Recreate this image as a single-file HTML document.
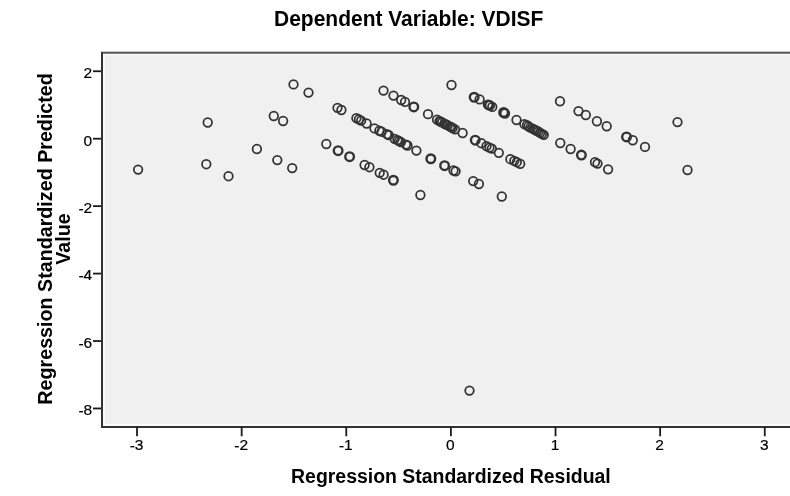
<!DOCTYPE html>
<html><head><meta charset="utf-8"><style>
html,body{margin:0;padding:0;background:#fff;}
svg{display:block;}
</style></head><body>
<svg width="790" height="496" viewBox="0 0 790 496">
<rect x="0" y="0" width="790" height="496" fill="#fff"/>
<text x="274" y="26" textLength="269.4" lengthAdjust="spacingAndGlyphs" font-family="'Liberation Sans', sans-serif" font-weight="bold" font-size="22" fill="#000">Dependent Variable: VDISF</text>
<rect x="103" y="53" width="687" height="373" fill="#f0f0f0"/>
<rect x="103" y="54" width="687" height="1.6" fill="#f7f7f7"/>
<rect x="103" y="54" width="2" height="372" fill="#f9f9f9"/>
<rect x="103" y="424" width="687" height="2" fill="#fbfbfb"/>
<rect x="101" y="51.7" width="689" height="2" fill="#555"/>
<rect x="101" y="52" width="2" height="376" fill="#333"/>
<rect x="101" y="426" width="689" height="2" fill="#333"/>
<g stroke="#1a1a1a" stroke-width="1.8"><line x1="137.04" y1="427" x2="137.04" y2="436.3"/><line x1="241.66" y1="427" x2="241.66" y2="436.3"/><line x1="346.28" y1="427" x2="346.28" y2="436.3"/><line x1="450.90" y1="427" x2="450.90" y2="436.3"/><line x1="555.52" y1="427" x2="555.52" y2="436.3"/><line x1="660.14" y1="427" x2="660.14" y2="436.3"/><line x1="764.76" y1="427" x2="764.76" y2="436.3"/><line x1="93" y1="71.26" x2="101" y2="71.26"/><line x1="93" y1="138.70" x2="101" y2="138.70"/><line x1="93" y1="206.14" x2="101" y2="206.14"/><line x1="93" y1="273.58" x2="101" y2="273.58"/><line x1="93" y1="341.02" x2="101" y2="341.02"/><line x1="93" y1="408.46" x2="101" y2="408.46"/></g>
<g font-family="'Liberation Sans', sans-serif" font-size="15.5" fill="#000" stroke="#000" stroke-width="0.2" text-anchor="middle"><text x="136.54" y="449.6"><tspan dy="1">-</tspan><tspan dy="-1">3</tspan></text><text x="241.16" y="449.6"><tspan dy="1">-</tspan><tspan dy="-1">2</tspan></text><text x="345.78" y="449.6"><tspan dy="1">-</tspan><tspan dy="-1">1</tspan></text><text x="450.40" y="449.6">0</text><text x="555.02" y="449.6">1</text><text x="659.64" y="449.6">2</text><text x="764.26" y="449.6">3</text></g>
<g font-family="'Liberation Sans', sans-serif" font-size="15.5" fill="#000" stroke="#000" stroke-width="0.2" text-anchor="end"><text x="92.2" y="78.06">2</text><text x="92.2" y="145.50">0</text><text x="92.2" y="212.94"><tspan dy="1">-</tspan><tspan dy="-1">2</tspan></text><text x="92.2" y="280.38"><tspan dy="1">-</tspan><tspan dy="-1">4</tspan></text><text x="92.2" y="347.82"><tspan dy="1">-</tspan><tspan dy="-1">6</tspan></text><text x="92.2" y="415.26"><tspan dy="1">-</tspan><tspan dy="-1">8</tspan></text></g>
<text x="450.9" y="482.9" text-anchor="middle" font-family="'Liberation Sans', sans-serif" font-weight="bold" font-size="19.45" fill="#000">Regression Standardized Residual</text>
<g font-family="'Liberation Sans', sans-serif" font-weight="bold" font-size="19.7" fill="#000" text-anchor="middle">
<text transform="translate(51.9,238.9) rotate(-90)">Regression Standardized Predicted</text>
<text transform="translate(70.3,239.1) rotate(-90)">Value</text>
</g>
<g fill="none" stroke="#333" stroke-width="1.75">
<circle cx="138.10" cy="169.60" r="4.3"/>
<circle cx="207.70" cy="122.50" r="4.3"/>
<circle cx="206.30" cy="164.20" r="4.3"/>
<circle cx="228.50" cy="176.20" r="4.3"/>
<circle cx="256.90" cy="149.00" r="4.3"/>
<circle cx="273.80" cy="116.00" r="4.3"/>
<circle cx="283.10" cy="121.00" r="4.3"/>
<circle cx="277.30" cy="160.10" r="4.3"/>
<circle cx="292.20" cy="168.10" r="4.3"/>
<circle cx="293.50" cy="84.40" r="4.3"/>
<circle cx="308.50" cy="92.60" r="4.3"/>
<circle cx="326.30" cy="144.00" r="4.3"/>
<circle cx="338.10" cy="150.65" r="4.3" stroke-width="2.4"/>
<circle cx="349.60" cy="156.65" r="4.3" stroke-width="2.4"/>
<circle cx="364.60" cy="165.00" r="4.3"/>
<circle cx="369.40" cy="167.20" r="4.3"/>
<circle cx="379.70" cy="172.80" r="4.3"/>
<circle cx="383.60" cy="174.70" r="4.3"/>
<circle cx="393.40" cy="180.25" r="4.3" stroke-width="2.4"/>
<circle cx="420.40" cy="195.00" r="4.3"/>
<circle cx="337.50" cy="107.80" r="4.3"/>
<circle cx="341.40" cy="110.00" r="4.3"/>
<circle cx="356.40" cy="118.20" r="4.3"/>
<circle cx="358.90" cy="119.40" r="4.3"/>
<circle cx="361.10" cy="120.70" r="4.3"/>
<circle cx="366.60" cy="123.50" r="4.3"/>
<circle cx="374.50" cy="128.40" r="4.3"/>
<circle cx="379.40" cy="130.75" r="4.3"/>
<circle cx="381.60" cy="131.70" r="4.3"/>
<circle cx="386.90" cy="134.20" r="4.3"/>
<circle cx="388.75" cy="135.10" r="4.3"/>
<circle cx="394.60" cy="138.80" r="4.3"/>
<circle cx="397.50" cy="140.10" r="4.3"/>
<circle cx="399.10" cy="141.10" r="4.3"/>
<circle cx="400.90" cy="142.10" r="4.3"/>
<circle cx="405.90" cy="144.60" r="4.3"/>
<circle cx="407.50" cy="145.50" r="4.3"/>
<circle cx="416.40" cy="150.60" r="4.3"/>
<circle cx="430.80" cy="158.75" r="4.3" stroke-width="2.4"/>
<circle cx="444.60" cy="165.65" r="4.3" stroke-width="2.4"/>
<circle cx="453.50" cy="170.50" r="4.3"/>
<circle cx="455.60" cy="171.30" r="4.3"/>
<circle cx="473.20" cy="181.10" r="4.3"/>
<circle cx="478.90" cy="184.00" r="4.3"/>
<circle cx="501.80" cy="196.50" r="4.3"/>
<circle cx="383.50" cy="90.60" r="4.3"/>
<circle cx="393.50" cy="95.60" r="4.3"/>
<circle cx="401.20" cy="100.00" r="4.3"/>
<circle cx="405.00" cy="101.90" r="4.3"/>
<circle cx="413.80" cy="106.95" r="4.3" stroke-width="2.4"/>
<circle cx="428.00" cy="114.20" r="4.3"/>
<circle cx="437.00" cy="119.70" r="4.3"/>
<circle cx="439.50" cy="121.10" r="4.3"/>
<circle cx="440.60" cy="121.60" r="4.3"/>
<circle cx="442.10" cy="122.40" r="4.3"/>
<circle cx="444.70" cy="123.80" r="4.3"/>
<circle cx="445.80" cy="124.40" r="4.3"/>
<circle cx="447.40" cy="125.20" r="4.3"/>
<circle cx="450.10" cy="126.60" r="4.3"/>
<circle cx="451.20" cy="127.20" r="4.3"/>
<circle cx="452.60" cy="128.00" r="4.3"/>
<circle cx="455.00" cy="129.30" r="4.3"/>
<circle cx="462.60" cy="133.00" r="4.3"/>
<circle cx="475.25" cy="140.20" r="4.3" stroke-width="2.4"/>
<circle cx="481.30" cy="143.20" r="4.3"/>
<circle cx="486.50" cy="146.20" r="4.3"/>
<circle cx="489.50" cy="147.60" r="4.3"/>
<circle cx="491.80" cy="148.60" r="4.3"/>
<circle cx="498.80" cy="152.80" r="4.3"/>
<circle cx="510.40" cy="159.20" r="4.3"/>
<circle cx="514.30" cy="160.80" r="4.3"/>
<circle cx="516.80" cy="162.20" r="4.3"/>
<circle cx="520.20" cy="163.80" r="4.3"/>
<circle cx="451.50" cy="85.00" r="4.3"/>
<circle cx="474.15" cy="97.25" r="4.3" stroke-width="2.4"/>
<circle cx="479.60" cy="99.40" r="4.3"/>
<circle cx="487.90" cy="104.60" r="4.3"/>
<circle cx="488.80" cy="105.00" r="4.3"/>
<circle cx="489.90" cy="105.50" r="4.3"/>
<circle cx="492.25" cy="106.90" r="4.3"/>
<circle cx="503.65" cy="112.50" r="4.3" stroke-width="2.4"/>
<circle cx="505.00" cy="113.50" r="4.3"/>
<circle cx="516.50" cy="120.00" r="4.3"/>
<circle cx="524.40" cy="124.20" r="4.3"/>
<circle cx="526.90" cy="125.10" r="4.3"/>
<circle cx="528.40" cy="126.40" r="4.3"/>
<circle cx="530.30" cy="127.60" r="4.3"/>
<circle cx="533.10" cy="128.90" r="4.3"/>
<circle cx="534.80" cy="129.80" r="4.3"/>
<circle cx="536.60" cy="130.75" r="4.3"/>
<circle cx="538.40" cy="131.70" r="4.3"/>
<circle cx="540.10" cy="132.80" r="4.3"/>
<circle cx="541.90" cy="133.90" r="4.3"/>
<circle cx="543.75" cy="134.80" r="4.3"/>
<circle cx="560.30" cy="143.00" r="4.3"/>
<circle cx="570.60" cy="149.00" r="4.3"/>
<circle cx="581.40" cy="155.05" r="4.3" stroke-width="2.4"/>
<circle cx="595.00" cy="162.20" r="4.3"/>
<circle cx="597.50" cy="163.60" r="4.3"/>
<circle cx="608.10" cy="169.30" r="4.3"/>
<circle cx="560.00" cy="101.25" r="4.3"/>
<circle cx="578.50" cy="111.10" r="4.3"/>
<circle cx="585.80" cy="115.00" r="4.3"/>
<circle cx="596.90" cy="121.25" r="4.3"/>
<circle cx="606.70" cy="126.25" r="4.3"/>
<circle cx="626.50" cy="136.95" r="4.3" stroke-width="2.4"/>
<circle cx="632.75" cy="140.25" r="4.3"/>
<circle cx="645.00" cy="146.90" r="4.3"/>
<circle cx="677.50" cy="122.10" r="4.3"/>
<circle cx="687.50" cy="170.00" r="4.3"/>
<circle cx="469.50" cy="390.60" r="4.3"/>
</g>
</svg>
</body></html>
